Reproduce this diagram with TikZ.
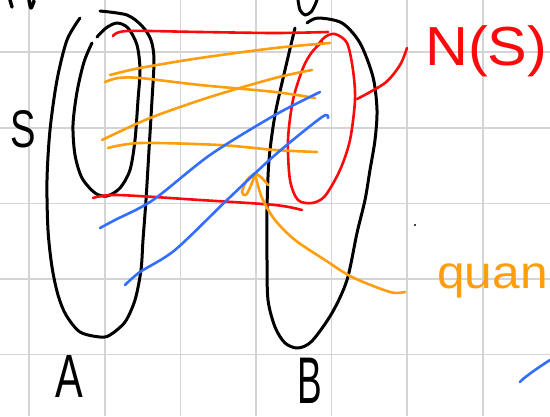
\documentclass[tikz,border=0pt]{standalone}
\usepackage{fontspec}
\setmainfont{Liberation Sans}
\definecolor{gridgray}{RGB}{212,212,212}
\definecolor{pred}{RGB}{250,10,10}
\definecolor{porange}{RGB}{255,158,12}
\definecolor{pblue}{RGB}{52,110,255}
\tikzset{
  ink/.style={line width=3pt,line cap=round,line join=round},
  blackink/.style={ink,black},
  redink/.style={line width=2.6pt,line cap=round,line join=round,pred},
  orangeink/.style={line width=2.6pt,line cap=round,line join=round,porange},
  blueink/.style={line width=2.6pt,line cap=round,line join=round,pblue},
  gridline/.style={line width=1.8pt,gridgray},
}
\begin{document}
\begin{tikzpicture}[x=1pt,y=-1pt]
\useasboundingbox (0,0) rectangle (550,416);
\fill[white] (0,0) rectangle (550,416);
% grid
\foreach \gx in {29.3,105,180.5,256,331.5,407,482.7}{\draw[gridline] (\gx,0) -- (\gx,416);}
\foreach \gy in {52.3,128,203.5,279,354.5}{\draw[gridline] (0,\gy) -- (550,\gy);}
% top fragments
\draw[blackink,line width=3.5pt] (10,0) -- (12,7);
\draw[blackink,line width=3.5pt] plot[smooth] coordinates {(29,0) (31,8) (34,1)};
\draw[blackink] plot[smooth] coordinates {(298,0) (300,10) (305,15) (311,12) (315,5) (317,0)};
% A outline
\draw[blackink] plot[smooth] coordinates {(80,18) (67,40) (57,80) (50,130) (47,180) (48,230) (52,267) (58,295) (66,315) (80,332) (100,337) (110,335) (125,322) (135,300) (141,270) (143,240) (146,200) (149,150) (152,100) (154,60) (151,40) (142,26) (127,15) (100,11)};
% S inner
\draw[blackink] plot[smooth] coordinates {(92,43) (84,62) (77,92) (73,125) (75,155) (82,178) (95,193) (107,196) (120,188) (130,170) (135,140) (138,100) (140,70) (137,45) (128,28) (117,23) (106,28) (97,37)};
% B outline
\draw[blackink] plot[smooth] coordinates {(295,28) (285,70) (275,115) (269,160) (267,210) (267,260) (268,300) (275,327) (285,343) (298,348) (312,341) (332,313) (347,280) (357,233) (365,200) (370,170) (375,140) (377,110) (373,77) (360,43) (342,23) (318,18) (307,23)};
% N(S) ellipse
\draw[redink] plot[smooth] coordinates {(316,47) (325,37) (335,34) (347,43) (353,70) (355,100) (350,140) (340,170) (325,196) (312,203) (298,200) (290,180) (288,140) (293,100) (303,68) (312,52) (322,42)};
\draw[redink] plot[smooth] coordinates {(357,99) (385,83) (400,65) (407,48)};
% red lines
\draw[redink] plot[smooth] coordinates {(113,36) (127,31) (200,32) (275,33) (328,32)};
\draw[redink] plot[smooth] coordinates {(93,198) (117,195) (200,200) (275,205) (302,210)};
% orange lines
\draw[orangeink] plot[smooth] coordinates {(110,75) (140,68) (200,58) (275,48) (330,43)};
\draw[orangeink] plot[smooth] coordinates {(105,82) (118,78) (140,78) (200,85) (275,92) (315,98)};
\draw[orangeink] plot[smooth] coordinates {(102,140) (150,118) (210,97) (275,78) (312,70)};
\draw[orangeink] plot[smooth] coordinates {(108,148) (140,143) (220,145) (275,150) (317,152)};
% orange arrow
\draw[orangeink] plot[smooth] coordinates {(405,292) (390,292) (352,277) (325,260) (295,240) (275,220) (262,198) (255,174)};
\draw[orangeink] plot[smooth] coordinates {(255,173) (247,180) (242,192) (246,195) (252,183) (255,173)};
\draw[orangeink] plot[smooth] coordinates {(255,173) (262,178) (268,185)};
% blue lines
\draw[blueink] plot[smooth] coordinates {(100,228) (115,220) (153,200) (210,155) (275,115) (320,92)};
\draw[blueink] plot[smooth] coordinates {(125,285) (140,272) (175,250) (227,200) (275,155) (322,117) (328,118)};
\draw[blueink] plot[smooth] coordinates {(520,382) (523,379) (535,370) (550,360)};
% dot
\fill[black] (415,225) circle (1.1);
% labels
\node[anchor=base west,inner sep=0pt,xscale=0.72] (labS) at (10,147) {\fontsize{53}{53}\selectfont S};
\node[anchor=base west,inner sep=0pt,xscale=0.68] (labA) at (55,397) {\fontsize{61}{61}\selectfont A};
\node[anchor=base west,inner sep=0pt,xscale=0.56] (labB) at (297,403) {\fontsize{66}{66}\selectfont B};
\node[anchor=base west,inner sep=0pt,text=pred,xscale=1.08] (labNS) at (425,65) {\fontsize{55}{55}\selectfont N(S)};
\node[anchor=base west,inner sep=0pt,text=porange,xscale=1.08] (labquan) at (437,288) {\fontsize{46}{46}\selectfont quan};
\end{tikzpicture}
\end{document}
